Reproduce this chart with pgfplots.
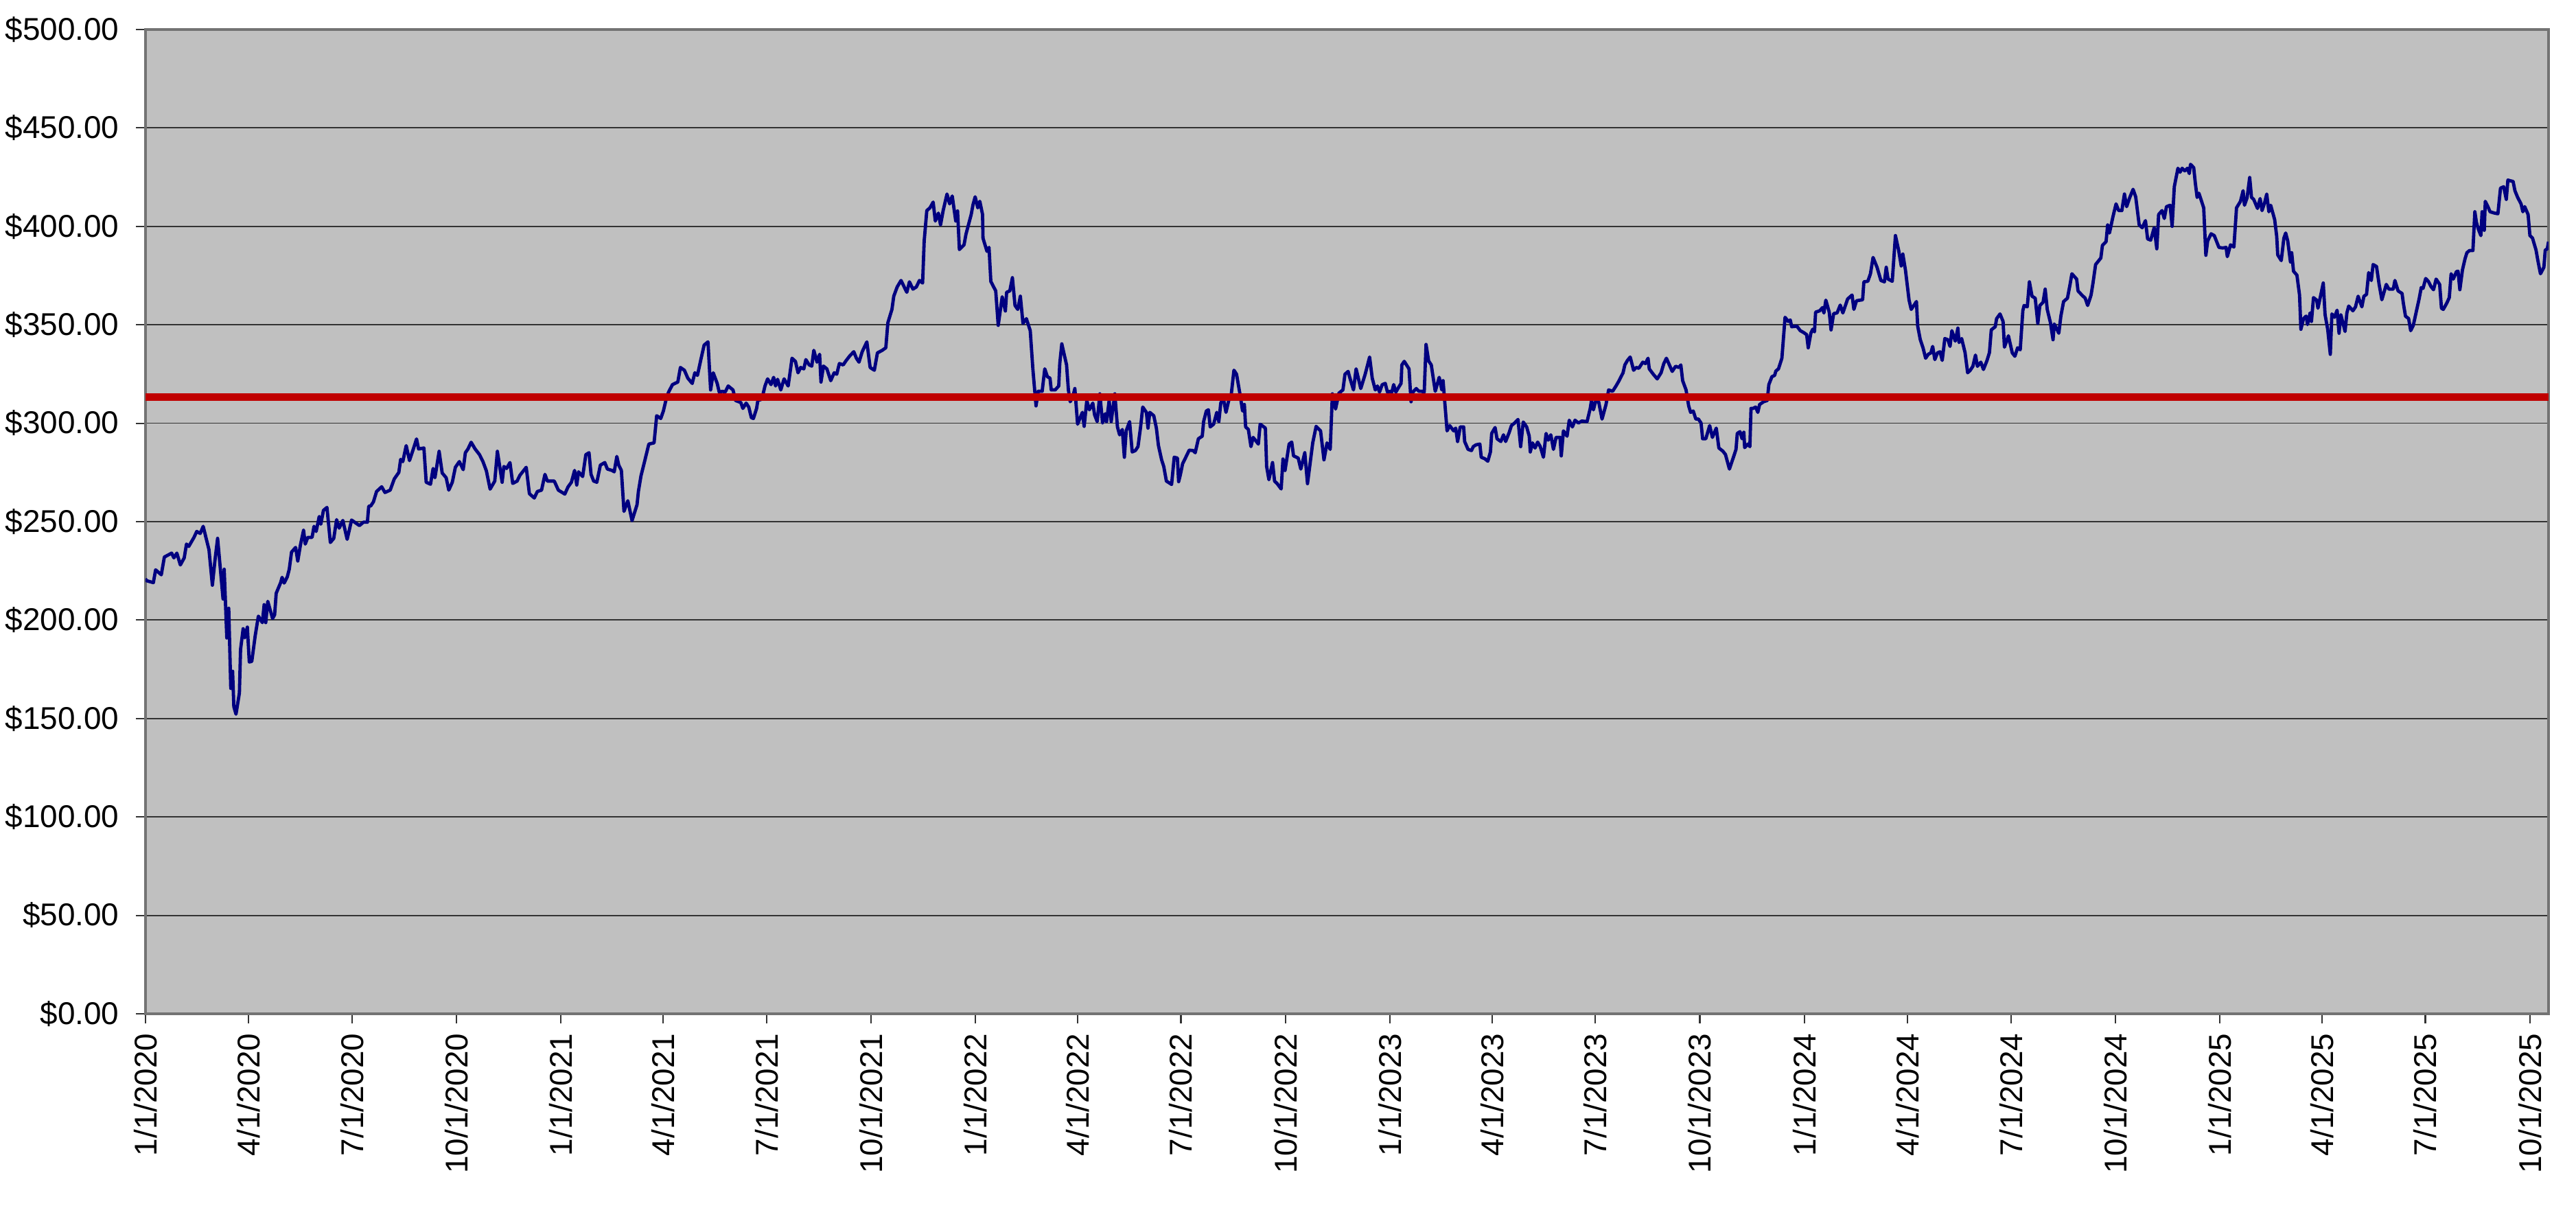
\documentclass[border=0pt]{standalone}
\usepackage{fontspec}
\setmainfont{Liberation Sans}
\usepackage{pgfplots}
\pgfplotsset{compat=1.18}
\definecolor{plotbg}{RGB}{192,192,192}
\definecolor{navyline}{RGB}{0,0,128}
\definecolor{redline}{RGB}{192,0,0}
\pgfplotstableread{
day value
0 221
1 220
7 219
9 225.5
14 223
16.7 232
23.1 234
25.1 231.6
27.7 234
30.8 228
34.2 231.6
36.2 238.6
38.2 237.4
42.8 242
45.2 245
48.3 244
50.9 247.6
56 235.7
59 217.7
61.3 230.5
63.6 241.5
68.4 210.7
69.4 225.8
71.7 190.9
73.4 206
75.2 165.3
76.8 174
77.9 156
79.8 152.2
82.8 163
83.8 185
86.1 195.6
87.5 191
89.8 196.4
91.5 178.7
93.7 179
96.7 192
99.5 202
103 198.7
104.6 207.8
106 198.7
107.8 209.5
112 200.8
113.8 202.6
115.2 213.6
119.1 219
120.4 221.7
122.2 218.8
125 222
126.7 225.8
128.7 234.5
132.3 236.9
134.2 230
136.5 238
139.3 245.6
140.8 238.6
143 242
146.8 242
148.5 247.6
150.4 245
153.1 252.6
154.5 248.7
156.8 255.7
159.9 257.2
162.9 239.4
165.9 241.5
168.4 251
170.7 246.7
173.9 250.6
177.7 241
181.6 250.8
188.5 248
192 249.7
195.5 249.7
196.7 257.8
198.5 258
200.8 260
203.6 265.3
208.1 267.7
211 264.8
215.6 266
219.2 271.7
223.2 275
224.8 281.6
226.7 280.5
229.7 288.6
232.6 281
236 286.9
238.8 292
240.6 286.9
245.3 287.4
247.3 270
251.1 269
253.4 277
255 272.3
258.7 285.7
261.4 274.7
264.9 272.3
267.2 266
270.3 270
273 277.6
276.5 280.5
279.9 276.4
281.8 285
284.1 286.9
286.9 290.3
290.4 286.9
294.3 284
297.3 280.5
300.3 275.8
303.6 266.5
307.7 270.6
310 285.7
314.2 270
315.7 278
318.1 277
321.1 280
323.5 269.4
327.4 270.6
329.8 273.5
335.4 277.6
338.2 264.2
342.5 262
345.2 265.3
348.9 266
351.9 274
354 270.6
360.1 270.6
363.7 266
369.4 264
372.2 267.6
375.2 270
378 276
379.9 268.6
381.5 275.3
385.1 272.9
387.9 284
390.7 285
392.5 274
394.8 270.6
397.6 270
400.7 278.7
404.6 280
406.9 276.7
411 276
412.9 275.3
415.2 283.1
416.9 278.7
419.2 276
421.5 255.2
424.9 260.6
428.6 250.5
433 258.6
434.2 265.3
436.5 273.3
440 281.4
443.4 289.4
448 290
450.3 303.8
453.9 302.4
456.2 306.2
459.2 313.5
460.8 315.8
464.2 319.6
468.9 320.9
471.2 328.3
474.7 326.9
477.7 322.9
481.6 320.2
483.9 325.6
486.2 324.3
489.2 332.3
492.1 339.7
495.5 341.3
497.8 316.9
500.1 325.6
503.6 320.2
505.4 315.8
508.3 316.2
510.6 315.8
513.3 318.9
517.5 316.9
519.8 311.5
524.4 310.5
526.2 307.5
529.1 310.2
531.4 308.2
533.7 302.8
535.5 302.4
538.3 307.5
539.4 311.5
542.9 312.2
545.7 318.9
548 322.5
551 319.6
553.3 323.3
555 318.9
556.8 322.3
559.6 316.9
562.5 322.5
566.1 318.9
567.9 326.3
569.5 333
572.5 331.4
574.8 325.6
577.1 328.3
579.9 327.6
581.7 332.3
584.6 329.6
586.9 329
588.7 337
591.5 331
593.8 335
595 320.9
597.2 329
600.2 327.6
603.6 321.6
606.6 325.6
608.9 324.9
611.2 330.3
614.6 329.6
616.9 331.6
620.5 334.3
623.9 336.3
626.2 333
628.5 331
631.3 336.3
635.4 341.3
638.3 328.3
642 326.9
644.7 335.7
648.9 337
652.1 338.3
653.9 351
657.5 357.8
659.1 364.5
662.1 369.2
665.5 372.5
670.6 366.5
672.9 371.8
676 368.1
679 369.2
681.7 372.5
684.5 371.2
685.9 392.6
688.2 408
691 409.4
693.8 412.3
695.7 402.7
698.4 406.7
700.3 400.7
702.6 408
706 416.4
708.3 411.4
710.6 415.4
713.7 402.7
715.3 407.8
716.9 388.2
721 390.6
722.7 396
727.3 406
728.9 411
730.8 415
733.1 409.4
734.9 412.7
737.3 406
737.7 394
741.2 387.3
743 389.3
744.6 372
748.9 367.2
751.1 349.7
754.6 364.2
757.4 357
758.5 366.5
761.3 367.2
763.6 373.9
765.9 359.8
768.3 357.8
770.6 364.5
772.9 350.7
775.9 353.1
779.3 347
781.6 327.6
784.4 308.8
786.3 316.2
789.8 316.2
792.1 327.6
794.4 323.6
796.7 322.9
797.8 316.9
801.3 316.9
804.4 318.9
805.3 330.3
807.1 340.3
811.3 329.6
812.9 316.9
814.5 310.9
816.8 313.5
818.6 317.6
821 299.5
825.2 305.5
826.8 298.4
829.1 311.5
831.4 306.8
834.4 310.2
836 304.2
838.3 300.8
840.6 314.9
843 300.1
845.3 304.8
846.5 300.8
848.8 311.5
850.6 300.8
853.8 314.9
856.1 298.1
858 294.1
860.4 296.8
862.2 282.7
863.8 296.1
866.8 300.8
869.1 285.4
871.9 286.1
874.2 288.1
876.5 298.1
878.4 308.2
881.6 305.5
883 297.5
884.6 305.5
888.1 303.8
890.4 297.5
892.2 288.7
895 281.4
896.9 278
899.2 270.6
903.8 268.9
906.1 282.7
908.9 282.3
910 270.3
911.6 274
913.5 279.4
916.9 283.4
919.3 286.3
922.8 286.1
924.6 285
927.4 292.1
930.8 293.4
932 300.8
934.4 306.2
936.2 306.8
937.8 298.1
940.8 299.5
943.6 305.5
945.4 300.8
947.1 310.2
949.3 312.9
951.7 305.5
954.1 311.5
956.4 314.9
958.7 326.9
961 324.9
964.4 313.5
966.3 306.2
967.9 309.5
969 298.1
971.4 296.8
973.7 288.1
975.6 292.8
980.2 289.4
981.8 299.5
986.4 297.5
987.5 278
989.5 271.3
992.7 280
994.5 270.6
996.8 269.3
1000.3 266.6
1001.9 281.8
1003.7 276
1007.3 289.4
1009.6 290.4
1011.2 283.4
1015.3 282.3
1017.6 276.7
1021.1 285
1023.5 269.3
1028.1 290
1031.1 298.4
1035 296.1
1038 281.4
1040.7 290
1043.5 286.7
1045.4 314.9
1048.2 307.2
1051.2 315.3
1054.7 316.9
1056.5 324.9
1059.3 326.3
1060.5 323.6
1064 316.9
1066.3 327.6
1070.4 317.6
1074.3 324.9
1078.2 333.6
1080.5 322.9
1083.2 316.9
1085.1 318.9
1086.9 315.8
1089.3 319.6
1092 320.2
1093.9 315.8
1096.2 316.2
1097.8 315.8
1099.4 319.6
1101.3 315.8
1103.1 317.6
1105.9 320.2
1106.6 329.6
1108.7 331.4
1112.9 327.6
1114.7 310.9
1116.3 315.8
1119.3 317.6
1121.7 316.2
1124 316.2
1126.3 315.8
1127.9 340
1130.2 331.6
1132.5 329.6
1136 316.2
1139.5 323.3
1141.8 316.9
1142.9 321.6
1146.4 296.1
1148.7 298.8
1152.2 296.1
1154 297.5
1155.7 290.7
1158 298.1
1161 298.1
1161.9 290.7
1164.9 286.7
1167.9 286.1
1169.5 288.1
1171.9 289
1175.3 289.4
1176.5 282.7
1179.5 282
1182.3 280.7
1184.6 285.4
1185.7 294.8
1188.7 297.8
1190.4 292.1
1193.8 290.7
1196.1 294.1
1198 290.7
1201.2 295.4
1203.1 298.8
1205.9 300.1
1208.9 301.9
1211.2 288.1
1213.5 300.6
1216.5 298.1
1218.8 293.4
1219.7 285.4
1221.6 290
1223.9 287.4
1226.2 290.4
1228.5 288.1
1231.3 282.7
1233.6 294.8
1235.5 291.4
1237.8 294.1
1240.1 286.7
1242.4 292.8
1245.9 292.8
1247 283.4
1248.9 296.1
1252.1 293.4
1254 301.5
1256.8 298.1
1259.1 301.5
1262.1 300.1
1265.1 301.1
1269.7 300.8
1272.5 307.5
1273.6 311.5
1275.3 306.8
1277.1 310.9
1279.9 310.9
1282.9 302.1
1286.4 309.5
1288.7 316.9
1292.2 316.2
1295.2 318.9
1297.9 321.6
1301.4 325.6
1303 329.6
1305.3 331.9
1307.7 333.6
1310.7 326.9
1313 328.3
1315.3 327.9
1318.8 331
1321.1 330.3
1323.4 333
1324.5 327.6
1328 324.9
1331.5 322.5
1334.9 325.6
1337.3 330.3
1339.6 333
1341.9 330
1344.7 326.3
1347.7 328.9
1350.7 328.3
1352.3 329.6
1353.9 321.6
1356.9 316.9
1359.2 308.8
1360.9 305.5
1363.2 306.2
1365.5 302.1
1367.8 302.1
1370.1 300.1
1371.5 292.1
1374.3 292.1
1377.7 298.8
1380.1 292.8
1383.5 297.5
1385.8 287.4
1389.3 285.8
1391.6 284.1
1395.1 276.7
1398.6 282.7
1400.9 286.7
1402 294.8
1404.4 295.7
1406.2 292.1
1407.8 295.4
1408.5 287.6
1411.3 289.4
1413.1 288.1
1414.1 307.5
1415.9 307.5
1418.2 308.2
1420.1 305.5
1421.7 309.5
1425.2 310.9
1428.4 311.5
1429.8 319.6
1432.5 323.6
1434.9 324.3
1436 326.5
1438.3 327.6
1441.3 333
1444.1 353.8
1446.9 351.7
1448.7 352.4
1449.9 349
1454.5 349.3
1457.5 347
1460.3 346.1
1463.1 345
1464.5 338.3
1466.8 345.7
1468.4 347.7
1470 346.4
1471 356.4
1474.6 357.1
1477 358.7
1478.3 356
1480 362.5
1483 356.4
1484.6 347.4
1486.9 355.7
1489.9 356
1492.7 360
1495 356
1499.2 363.1
1503.1 365.1
1504.7 357.8
1507 362.2
1512.4 362.7
1513.5 371.8
1517 372.1
1519.3 375.9
1521.6 384.2
1525.1 379.2
1528.5 372.5
1531.6 371.8
1533.2 379.2
1534.8 373.2
1538.5 372.1
1541.3 395.3
1544.1 387.9
1546.4 379.9
1547.8 385.9
1550.1 377.9
1553.3 362.5
1555.2 357.8
1557.5 359.8
1559.8 361.8
1560.9 349.3
1563.2 342.4
1565.6 338.3
1567.9 333
1570.2 335
1572.5 335.7
1574.1 339
1576 332.3
1578.3 335.7
1580.6 336.3
1582.5 331.9
1584.8 343
1587.5 342.4
1589.4 339
1591 347
1594 341.7
1596.3 348.3
1597.3 341
1599.6 343
1602.6 335.9
1604.9 325.6
1607.2 326.9
1609.5 328.9
1611.8 334.6
1613.5 328.9
1616.5 331
1618.8 327.3
1621.8 331.6
1624.1 335.9
1625.7 347.4
1629.2 349
1630.4 353.1
1633.4 355.5
1636.1 351.7
1637.3 338.6
1640.8 344.4
1644.2 335.7
1646.5 334
1648.9 338.3
1651.2 337.3
1653.5 357.1
1654.6 359.8
1657.4 359.1
1659.3 371.8
1661.6 364.5
1664.4 363.5
1666.7 350.7
1668.5 359.8
1671.3 361.4
1673.2 368.1
1675 357.8
1677.8 351.1
1680.1 342.4
1681.2 350.4
1685.2 345.7
1687 354.4
1689.4 361.8
1692.8 363.5
1695.1 370.5
1696.7 375.9
1700.9 373.2
1702.1 367.2
1705.5 365.1
1708.4 363.5
1710.6 359.8
1713.6 365.1
1715.3 371.2
1717.6 380.6
1722.2 383.9
1723.6 390.3
1726.8 392.2
1728.2 400.7
1729.8 396.6
1732.8 404.7
1735.6 411.4
1737.9 408
1740.7 408
1743 416.4
1744.9 410
1747.6 414.5
1750.6 418.8
1752.9 415
1756 400.7
1758.7 399.3
1761.5 402.9
1763.4 393.6
1766.1 393
1769.2 399.3
1771.5 388.6
1773.1 406
1776.1 408
1778.1 404
1780 410
1783.2 410.7
1785 400
1786.9 420.1
1790.1 429.5
1792 427.5
1793.8 429.5
1796.1 428.2
1798.5 429.5
1800.1 426.8
1801.2 431.5
1804 429.8
1805.4 422.1
1807 414.7
1808.6 416.8
1812.8 409.4
1814.7 385.3
1816.3 392.6
1819.3 396.2
1822.1 395.3
1826.2 389.3
1829.5 389
1832.5 389.3
1833.6 384.6
1836.4 390.6
1839.4 389.5
1841.7 409.4
1845.2 412.7
1847.5 418.1
1848.7 410.7
1851 414.5
1853.3 424.8
1854.9 414.7
1856.8 413.7
1860.2 409.1
1862.5 414.1
1864.2 408
1866.5 412.1
1868.3 416.4
1870.2 407.4
1871.8 410.7
1875.3 403.4
1877.1 394.9
1878 385.5
1881.1 382.6
1883.4 394
1885 396.6
1886.8 392.6
1889.2 381.9
1890.3 386.6
1891.9 377.2
1894.9 375.2
1897.2 365.1
1898.4 347.7
1900.7 353.1
1903 354.4
1904.2 350.1
1906.5 356
1907.7 351.7
1909.5 363.8
1912.3 362.5
1913.4 358.4
1916.4 366.5
1918.1 371.2
1919.7 355.1
1922 347.7
1924.3 335
1925.7 355.5
1928 353.8
1930.3 357.4
1932 345.7
1933.6 355.1
1937.3 346.6
1938.9 356
1940.5 359.5
1944.2 357.1
1946.5 359.1
1948.8 364.5
1952.1 359.1
1953.9 364.5
1956.2 365.4
1958.1 376.5
1960.4 372.5
1962 380.6
1965 379.6
1967.3 370.5
1969.7 362.7
1973.6 370.5
1975.9 368.1
1979.8 368.1
1981.2 372.5
1984 367.2
1987.5 365.9
1988.6 361.1
1990.5 354.4
1993.3 353.1
1995.1 347
1997.4 349.7
2000.2 357.1
2002.5 363.1
2004.4 368.9
2006 368.5
2008.3 373.5
2010.6 372.1
2013 369.4
2015.2 367.8
2017.5 373.2
2020.6 370.5
2022.2 358.4
2023.8 357.8
2026.8 360.9
2029.1 363.8
2030.7 375.9
2032.6 373.2
2035.4 377
2036.8 377.2
2038.4 367.8
2040.7 377.9
2043 383.6
2044.6 386.6
2046.9 387.7
2049.9 387.7
2051.6 407.4
2053 402
2054.6 398.7
2056.9 395.3
2058 407.4
2059.9 398
2060.8 412.7
2063.1 410
2065 407.4
2069.1 406.7
2071.9 406.4
2074.2 419.4
2077 420.1
2079.3 413.7
2080.7 423.5
2083 423.1
2085.3 422.8
2086.9 418.1
2089.3 414.7
2092.3 411.4
2093.9 407.4
2095.5 410
2098.5 406
2100.1 395.3
2102.4 394
2105.5 387.9
2107.1 382.6
2109.4 375.9
2112.4 379.2
2113.6 387.9
2115.4 388.6
2116.5 392.2
}\pricedata
\begin{document}
\begin{tikzpicture}
\useasboundingbox (-50.8pt,-75.5pt) rectangle (849.2pt,354.2pt);
\begin{axis}[
  at={(0pt,0pt)}, anchor=south west,
  scale only axis, width=839.6pt, height=343.9pt,
  xmin=0, xmax=2116.5, ymin=0, ymax=500,
  axis background/.style={fill=plotbg},
  ymajorgrids,
  major grid style={black!80, line width=0.45pt},
  ytick={0,50,100,150,200,250,300,350,400,450,500},
  yticklabels={\$0.00,\$50.00,\$100.00,\$150.00,\$200.00,\$250.00,\$300.00,\$350.00,\$400.00,\$450.00,\$500.00},
  xtick={0,91,182,274,366,456,547,639,731,821,912,1004,1096,1186,1277,1369,1461,1552,1643,1735,1827,1917,2008,2100},
  xticklabels={1/1/2020,4/1/2020,7/1/2020,10/1/2020,1/1/2021,4/1/2021,7/1/2021,10/1/2021,1/1/2022,4/1/2022,7/1/2022,10/1/2022,1/1/2023,4/1/2023,7/1/2023,10/1/2023,1/1/2024,4/1/2024,7/1/2024,10/1/2024,1/1/2025,4/1/2025,7/1/2025,10/1/2025},
  xticklabel style={rotate=90, anchor=east, font=\fontsize{11}{13}\selectfont},
  yticklabel style={font=\fontsize{11}{13}\selectfont, xshift=-2.4pt},
  tick align=outside, tick pos=left, major tick length=3.3pt,
  tick style={black!80, line width=0.5pt},
  axis line style={draw=black!55, line width=1pt},
]
\addplot[navyline, line width=1.15pt, line join=round] table[x=day, y=value] {\pricedata};
\addplot[redline, line width=2.5pt] coordinates {(0,313.3) (2116.5,313.3)};
\end{axis}
\end{tikzpicture}
\end{document}
